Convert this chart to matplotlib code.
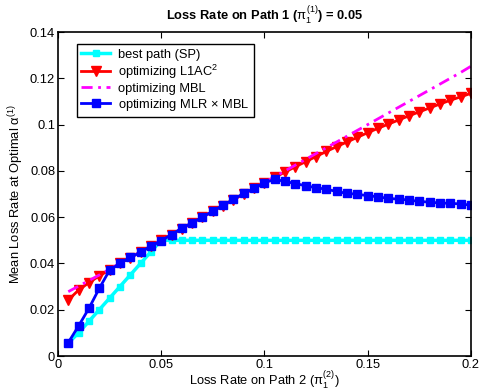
import matplotlib
matplotlib.use("Agg")
import matplotlib.pyplot as plt

plt.rcParams['font.family'] = ['Liberation Sans', 'DejaVu Sans']
plt.rcParams['mathtext.fontset'] = 'custom'
plt.rcParams['mathtext.rm'] = 'Liberation Sans'
plt.rcParams['mathtext.it'] = 'Liberation Sans'
plt.rcParams['mathtext.bf'] = 'Liberation Sans:bold'

# Loss rate on path 2
loss_path2 = [0.005, 0.010, 0.015, 0.020, 0.025, 0.030, 0.035, 0.040, 0.045, 0.050,
              0.055, 0.060, 0.065, 0.070, 0.075, 0.080, 0.085, 0.090, 0.095, 0.100,
              0.105, 0.110, 0.115, 0.120, 0.125, 0.130, 0.135, 0.140, 0.145, 0.150,
              0.155, 0.160, 0.165, 0.170, 0.175, 0.180, 0.185, 0.190, 0.195, 0.200]

best_path = [0.0056, 0.010, 0.015, 0.020, 0.025, 0.030, 0.035, 0.040, 0.045, 0.050,
             0.050, 0.050, 0.050, 0.050, 0.050, 0.050, 0.050, 0.050, 0.050, 0.050,
             0.050, 0.050, 0.050, 0.050, 0.050, 0.050, 0.050, 0.050, 0.050, 0.050,
             0.050, 0.050, 0.050, 0.050, 0.050, 0.050, 0.050, 0.050, 0.050, 0.050]

opt_l1ac2 = [0.0242, 0.0285, 0.0317, 0.0346, 0.0372, 0.0400, 0.0425, 0.0450, 0.0475, 0.0500,
             0.0525, 0.0550, 0.0575, 0.0600, 0.0625, 0.0650, 0.0675, 0.0700, 0.0724, 0.0748,
             0.0772, 0.0795, 0.0818, 0.0840, 0.0862, 0.0884, 0.0905, 0.0925, 0.0945, 0.0965,
             0.0984, 0.1002, 0.1020, 0.1038, 0.1055, 0.1072, 0.1089, 0.1105, 0.1120, 0.1135]

opt_mbl = [0.0278, 0.0302, 0.0326, 0.0350, 0.0375, 0.0400, 0.0425, 0.0450, 0.0475, 0.0500,
           0.0525, 0.0550, 0.0575, 0.0600, 0.0625, 0.0650, 0.0675, 0.0700, 0.0725, 0.0750,
           0.0775, 0.0800, 0.0825, 0.0850, 0.0875, 0.0900, 0.0925, 0.0950, 0.0975, 0.1000,
           0.1025, 0.1050, 0.1075, 0.1100, 0.1125, 0.1150, 0.1175, 0.1200, 0.1225, 0.1252]

opt_mlr_mbl = [0.0058, 0.0130, 0.0206, 0.0292, 0.0371, 0.0400, 0.0426, 0.0448, 0.0475, 0.0498,
               0.0525, 0.0552, 0.0576, 0.0600, 0.0626, 0.0652, 0.0677, 0.0703, 0.0724, 0.0749,
               0.0763, 0.0755, 0.0745, 0.0736, 0.0727, 0.0721, 0.0711, 0.0703, 0.0699, 0.0693,
               0.0688, 0.0681, 0.0678, 0.0674, 0.0668, 0.0665, 0.0661, 0.0660, 0.0657, 0.0652]

x_ticks = [0, 0.05, 0.1, 0.15, 0.2]
x_tick_labels = ['0', '0.05', '0.1', '0.15', '0.2']
y_ticks = [0, 0.02, 0.04, 0.06, 0.08, 0.1, 0.12, 0.14]
y_tick_labels = ['0', '0.02', '0.04', '0.06', '0.08', '0.1', '0.12', '0.14']

FS = 9.3

fig = plt.figure(figsize=(4.79, 3.91), dpi=100)
ax = fig.add_axes([0.121, 0.0895, 0.862, 0.8285])

ax.plot(loss_path2, best_path, color='cyan', lw=2.5, marker='s', ms=4.5,
        label='best path (SP)')
ax.plot(loss_path2, opt_l1ac2, color='red', lw=2, marker='v', ms=7.5,
        label='optimizing L1AC$^2$')
ax.plot(loss_path2, opt_mbl, color='magenta', lw=2, ls=(0, (4, 2, 1, 2)),
        label='optimizing MBL')
ax.plot(loss_path2, opt_mlr_mbl, color='blue', lw=2, marker='s', ms=5.5,
        label=r'optimizing MLR $\times$ MBL')

ax.set_xlim(0, 0.2)
ax.set_ylim(0, 0.14)
ax.set_xticks(x_ticks)
ax.set_xticklabels(x_tick_labels)
ax.set_yticks(y_ticks)
ax.set_yticklabels(y_tick_labels)
ax.tick_params(direction='in', top=True, right=True, labelsize=FS, length=4, width=0.8, pad=2)
for s in ax.spines.values():
    s.set_linewidth(1.2)

ax.set_title(r'Loss Rate on Path 1 ($\pi_1^{(1)}$) = 0.05', fontsize=FS,
             fontweight='bold', pad=9)
ax.set_xlabel(r'Loss Rate on Path 2 ($\pi_1^{(2)}$)', fontsize=FS, labelpad=-1)
ax.set_ylabel(r'Mean Loss Rate at Optimal $\alpha^{(1)}$', fontsize=FS, labelpad=3)

leg = ax.legend(loc='upper left', bbox_to_anchor=(0.046, 0.963), borderaxespad=0,
                fontsize=FS, fancybox=False, framealpha=1, edgecolor='black',
                handlelength=2.2, borderpad=0.35, labelspacing=0.15, handletextpad=0.6)
leg.get_frame().set_linewidth(1.0)

fig.savefig('out.png', dpi=100)
